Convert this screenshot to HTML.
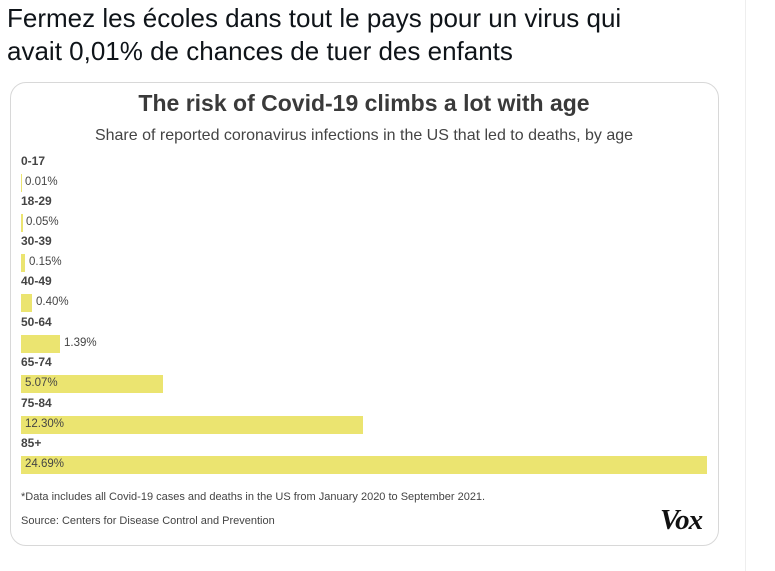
<!DOCTYPE html>
<html><head><meta charset="utf-8"><style>
body{margin:0;width:775px;height:571px;background:#fff;position:relative;overflow:hidden;font-family:"Liberation Sans",sans-serif;color:#222}
.t{position:absolute;left:7px;top:2px;font-size:26px;line-height:33px;color:#0f1419}
.card{position:absolute;left:10px;top:82px;width:707px;height:462px;border:1px solid #d8d8d8;border-radius:16px}
.vl{position:absolute;left:745px;top:0;width:1px;height:571px;background:#eee}
.h{position:absolute;left:0;width:728px;text-align:center}
.lab{position:absolute;left:21px;font-size:12px;color:#444;font-weight:bold}
.bar{position:absolute;left:21px;height:18px;background:#ebe470}
.v{position:absolute;font-size:11.5px;color:#444}
.f{position:absolute;left:21px;font-size:11px;color:#444}
</style></head><body>
<div class="t">Fermez les écoles dans tout le pays pour un virus qui<br>avait 0,01% de chances de tuer des enfants</div>
<div class="card"></div>
<div class="vl"></div>
<div class="h" style="top:90px;font-size:23px;font-weight:bold;color:#3a3a3a">The risk of Covid-19 climbs a lot with age</div>
<div class="h" style="top:127px;font-size:16px;color:#444">Share of reported coronavirus infections in the US that led to deaths, by age</div>

<div class="lab" style="top:154px">0-17</div><div class="bar" style="top:174px;width:1px"></div><div class="v" style="left:25px;top:176px">0.01%</div>
<div class="lab" style="top:194px">18-29</div><div class="bar" style="top:214px;width:2px"></div><div class="v" style="left:26px;top:216px">0.05%</div>
<div class="lab" style="top:234px">30-39</div><div class="bar" style="top:254px;width:4px"></div><div class="v" style="left:29px;top:256px">0.15%</div>
<div class="lab" style="top:274px">40-49</div><div class="bar" style="top:294px;width:11px"></div><div class="v" style="left:36px;top:296px">0.40%</div>
<div class="lab" style="top:315px">50-64</div><div class="bar" style="top:335px;width:39px"></div><div class="v" style="left:64px;top:337px">1.39%</div>
<div class="lab" style="top:355px">65-74</div><div class="bar" style="top:375px;width:142px"></div><div class="v" style="left:25px;top:377px">5.07%</div>
<div class="lab" style="top:396px">75-84</div><div class="bar" style="top:416px;width:342px"></div><div class="v" style="left:25px;top:418px">12.30%</div>
<div class="lab" style="top:436px">85+</div><div class="bar" style="top:456px;width:686px"></div><div class="v" style="left:25px;top:458px">24.69%</div>

<div class="f" style="top:491px">*Data includes all Covid-19 cases and deaths in the US from January 2020 to September 2021.</div>
<div class="f" style="top:515px">Source: Centers for Disease Control and Prevention</div>
<div style="position:absolute;left:660px;top:504px;font-family:'Liberation Serif',serif;font-weight:bold;font-style:italic;font-size:29px;color:#111;letter-spacing:-1px">Vox</div>
</body></html>
